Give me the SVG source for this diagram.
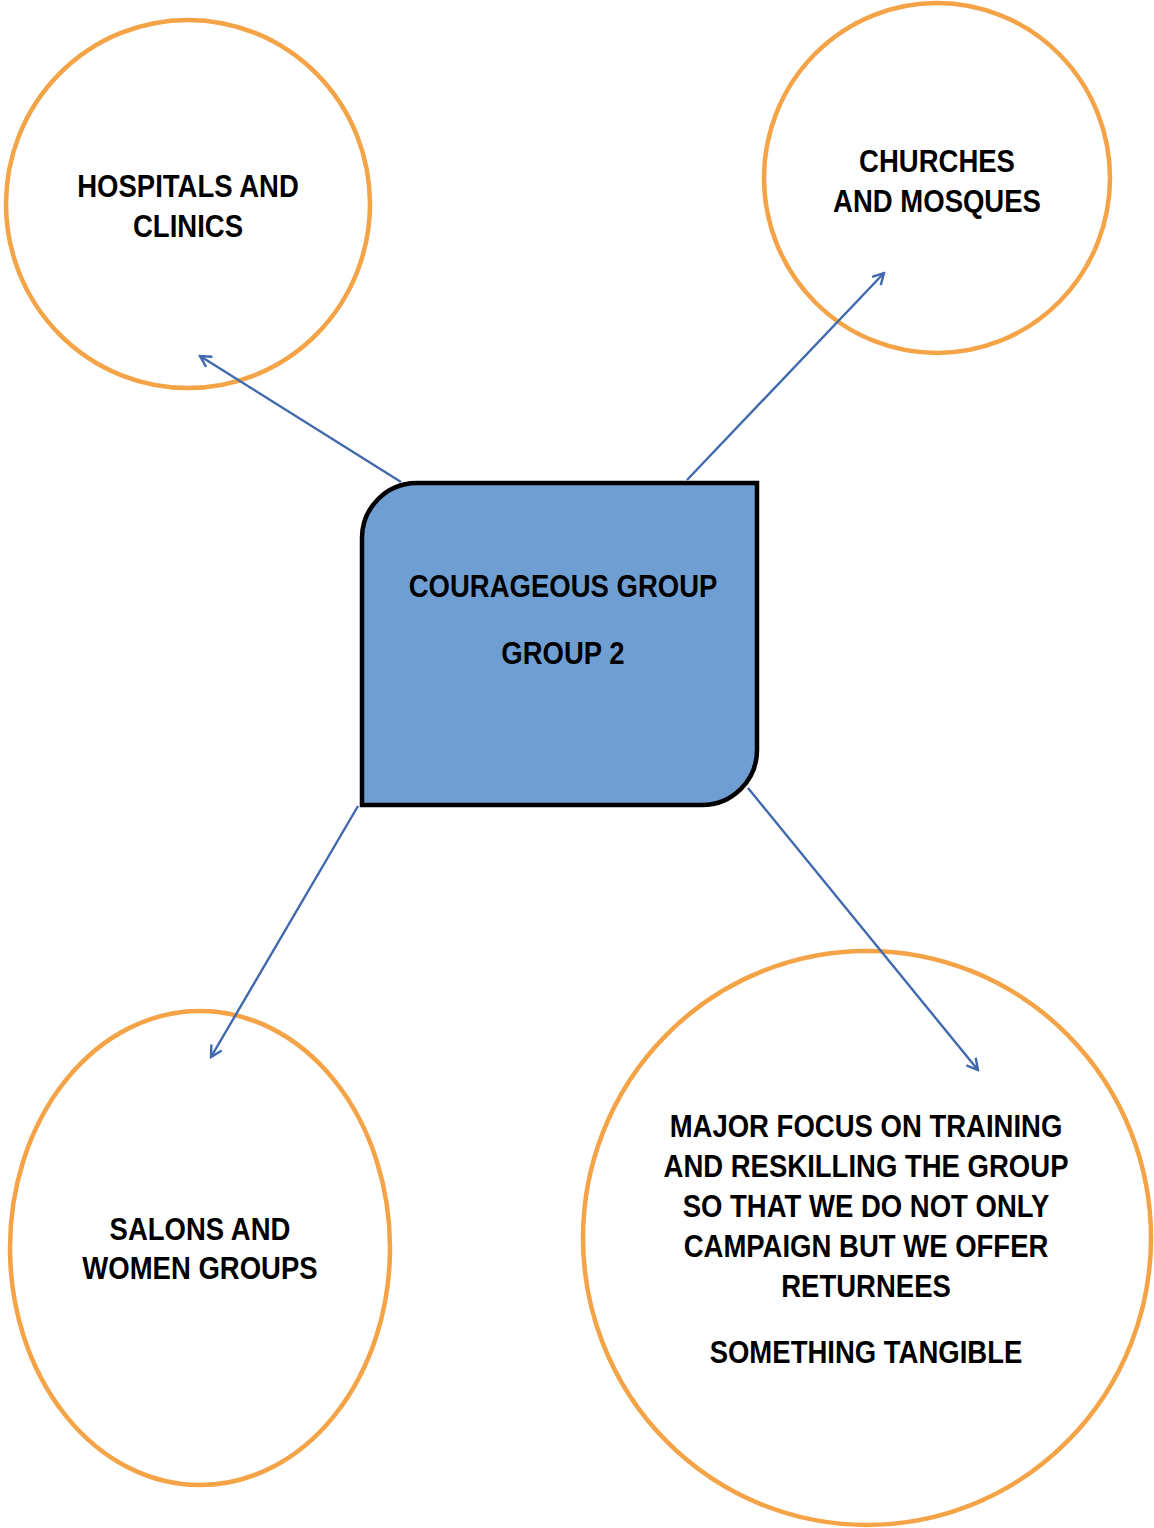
<svg xmlns="http://www.w3.org/2000/svg" width="1154" height="1528" viewBox="0 0 1154 1528">
<defs>
<style>
.c{fill:#fff;stroke:#F4A347;stroke-width:4.5}
.t{font-family:"Liberation Sans",Arial,sans-serif;font-weight:bold;font-size:32px;fill:#000;text-anchor:middle}
.e{stroke:#4169AD;stroke-width:2.4;fill:none;marker-end:url(#a)}
</style>
<marker id="a" viewBox="0 0 14 14" refX="12" refY="7" markerWidth="14" markerHeight="14" markerUnits="userSpaceOnUse" orient="auto">
<path d="M1,1 L12,7 L1,13" fill="none" stroke="#4169AD" stroke-width="2.4"/>
</marker>
</defs>
<rect width="1154" height="1528" fill="#fff"/>
<g id="hospitals">
<ellipse class="c" cx="188" cy="204" rx="182" ry="184"/>
<g transform="translate(188 0) scale(0.86 1)">
<text class="t" x="0" y="197">HOSPITALS AND</text>
<text class="t" x="0" y="237">CLINICS</text>
</g>
</g>
<g id="churches">
<ellipse class="c" cx="937" cy="178" rx="173" ry="175"/>
<g transform="translate(937 0) scale(0.86 1)">
<text class="t" x="0" y="172">CHURCHES</text>
<text class="t" x="0" y="212">AND MOSQUES</text>
</g>
</g>
<g id="salons">
<ellipse class="c" cx="200" cy="1248" rx="190" ry="237"/>
<g transform="translate(200 0) scale(0.86 1)">
<text class="t" x="0" y="1240">SALONS AND</text>
<text class="t" x="0" y="1279">WOMEN GROUPS</text>
</g>
</g>
<g id="major">
<ellipse class="c" cx="867" cy="1238" rx="284" ry="287"/>
<g transform="translate(866 0) scale(0.86 1)">
<text class="t" x="0" y="1137">MAJOR FOCUS ON TRAINING</text>
<text class="t" x="0" y="1177">AND RESKILLING THE GROUP</text>
<text class="t" x="0" y="1217">SO THAT WE DO NOT ONLY</text>
<text class="t" x="0" y="1257">CAMPAIGN BUT WE OFFER</text>
<text class="t" x="0" y="1297">RETURNEES</text>
<text class="t" x="0" y="1363">SOMETHING TANGIBLE</text>
</g>
</g>
<g id="connectors">
<line class="e" x1="401" y1="482" x2="200" y2="356"/>
<line class="e" x1="687" y1="480" x2="884" y2="273"/>
<line class="e" x1="358" y1="806" x2="211" y2="1057"/>
<line class="e" x1="748" y1="788" x2="978" y2="1070"/>
</g>
<g id="center">
<path d="M416,483 L757,483 L757,750 A55,55 0 0 1 702,805 L362,805 L362,538 A55,55 0 0 1 416,483 Z" fill="#6F9FD2" stroke="#000" stroke-width="4.5"/>
<g transform="translate(563 0) scale(0.86 1)">
<text class="t" x="0" y="597">COURAGEOUS GROUP</text>
<text class="t" x="0" y="664">GROUP 2</text>
</g>
</g>
</svg>
